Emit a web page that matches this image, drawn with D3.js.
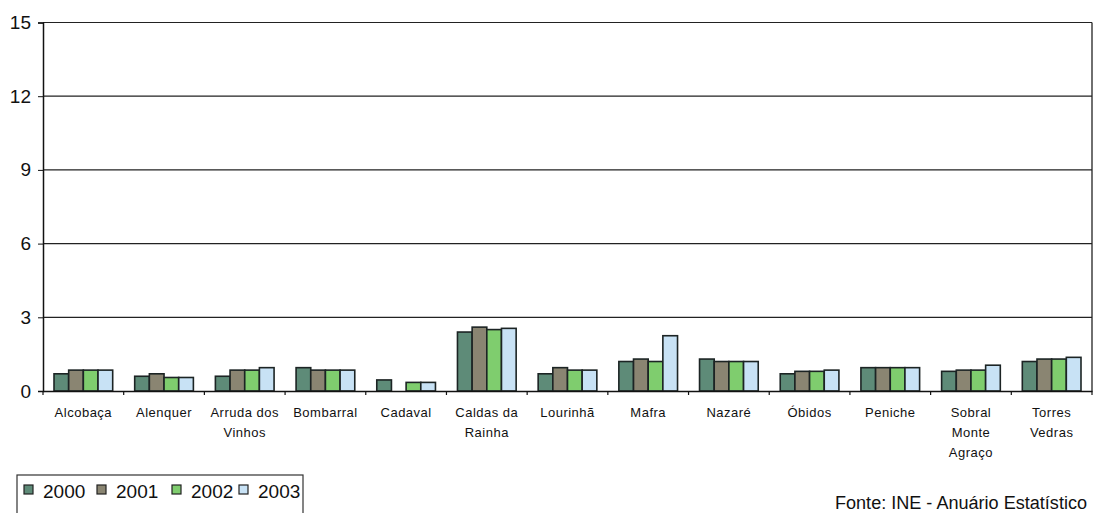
<!DOCTYPE html>
<html><head><meta charset="utf-8">
<script src="https://cdn.jsdelivr.net/npm/d3@7"></script>
<style>body{margin:0;background:#fff}svg{display:block}text{font-family:"Liberation Sans",Arial,sans-serif;fill:#111}</style>
</head><body><svg id="c" width="1095" height="513"></svg>
<script>
const categories = [["Alcobaça"],["Alenquer"],["Arruda dos","Vinhos"],["Bombarral"],["Cadaval"],["Caldas da","Rainha"],["Lourinhã"],["Mafra"],["Nazaré"],["Óbidos"],["Peniche"],["Sobral","Monte","Agraço"],["Torres","Vedras"]];
const years = ["2000","2001","2002","2003"];
const v2000 = [0.7,0.6,0.6,0.95,0.45,2.4,0.7,1.2,1.3,0.7,0.95,0.8,1.2];
const v2001 = [0.85,0.7,0.85,0.85,0,2.6,0.95,1.3,1.2,0.8,0.95,0.85,1.3];
const v2002 = [0.85,0.55,0.85,0.85,0.35,2.5,0.85,1.2,1.2,0.8,0.95,0.85,1.3];
const v2003 = [0.85,0.55,0.95,0.85,0.35,2.55,0.85,2.25,1.2,0.85,0.95,1.05,1.37];
const yTicks = [0,3,6,9,12,15];
const colors = ["#5e8b78","#8a8572","#7fcd6e","#c8e2f5"];
const series = [v2000,v2001,v2002,v2003];

const svg = d3.select("#c");
const L = 43, R = 1092, T = 22.5, B = 391;
const keys = categories.map(c => c.join(" "));
const x = d3.scaleBand().domain(keys).range([L, R]).padding(0);
const bw = x.bandwidth();
const gap = bw * 1.5 / 5.5;
const xs = d3.scaleBand().domain(years).range([gap/2, bw - gap/2]).padding(0);
const y = d3.scaleLinear().domain([0,15]).range([B, T]);

// gridlines
svg.append("g").selectAll("line").data(yTicks.filter(t => t > 0)).join("line")
  .attr("x1", L).attr("x2", R).attr("y1", d => y(d)).attr("y2", d => y(d))
  .attr("stroke", "#222").attr("stroke-width", 1.2);
// right border
svg.append("line").attr("x1", R).attr("x2", R).attr("y1", T).attr("y2", B).attr("stroke", "#222").attr("stroke-width", 1.3);

// bars
const g = svg.append("g");
series.forEach((vals, si) => {
  g.append("g").selectAll("rect").data(vals.map((v,i)=>({k:keys[i], v}))).join("rect")
    .filter(d => d.v > 0)
    .attr("x", d => x(d.k) + xs(years[si]))
    .attr("width", xs.bandwidth())
    .attr("y", d => y(d.v))
    .attr("height", d => y(0) - y(d.v))
    .attr("fill", colors[si])
    .attr("stroke", "#1c2424").attr("stroke-width", 1.6);
});

// y axis
const ya = svg.append("g").attr("transform", `translate(${L},0)`)
  .call(d3.axisLeft(y).tickValues(yTicks).tickSize(5).tickPadding(7).tickFormat(d3.format("d")));
ya.select(".domain").attr("stroke", "#111").attr("stroke-width", 1.5);
ya.selectAll(".tick line").attr("stroke", "#111");
ya.selectAll(".tick text").attr("font-size", 19).attr("font-family", '"Liberation Sans",Arial,sans-serif').attr("fill", "#111");

// x axis
const xa = svg.append("g").attr("transform", `translate(0,${B})`)
  .call(d3.axisBottom(x).tickValues(keys.concat()).tickSize(0).tickFormat(""));
xa.select(".domain").attr("stroke", "#111").attr("stroke-width", 1.5);
// category boundary ticks
svg.append("g").selectAll("line").data(d3.range(keys.length + 1)).join("line")
  .attr("x1", i => L + i * bw).attr("x2", i => L + i * bw)
  .attr("y1", B).attr("y2", B + 4).attr("stroke", "#111").attr("stroke-width", 1.2);

// category labels
const lab = svg.append("g").selectAll("text").data(categories).join("text")
  .attr("text-anchor", "middle").attr("font-size", 13).attr("letter-spacing", 0.5)
  .attr("transform", (d,i) => `translate(${x(keys[i]) + bw/2},417)`);
lab.selectAll("tspan").data(d => d).join("tspan")
  .attr("x", 0).attr("dy", (d,i) => i === 0 ? 0 : 20).text(d => d);

// legend
const lg = svg.append("g");
lg.append("rect").attr("x", 17).attr("y", 475).attr("width", 286).attr("height", 45)
  .attr("fill", "#fff").attr("stroke", "#333").attr("stroke-width", 1.2);
const lx = [24, 97, 172, 239];
years.forEach((yr, i) => {
  lg.append("rect").attr("x", lx[i]).attr("y", 485).attr("width", 9).attr("height", 9)
    .attr("fill", colors[i]).attr("stroke", "#222").attr("stroke-width", 1.2);
  lg.append("text").attr("x", lx[i] + 19).attr("y", 498).attr("font-size", 19).text(yr);
});

// source
svg.append("text").attr("x", 835).attr("y", 509).attr("font-size", 18)
  .attr("textLength", 252).attr("lengthAdjust", "spacingAndGlyphs").text("Fonte: INE - Anuário Estatístico");
</script></body></html>
